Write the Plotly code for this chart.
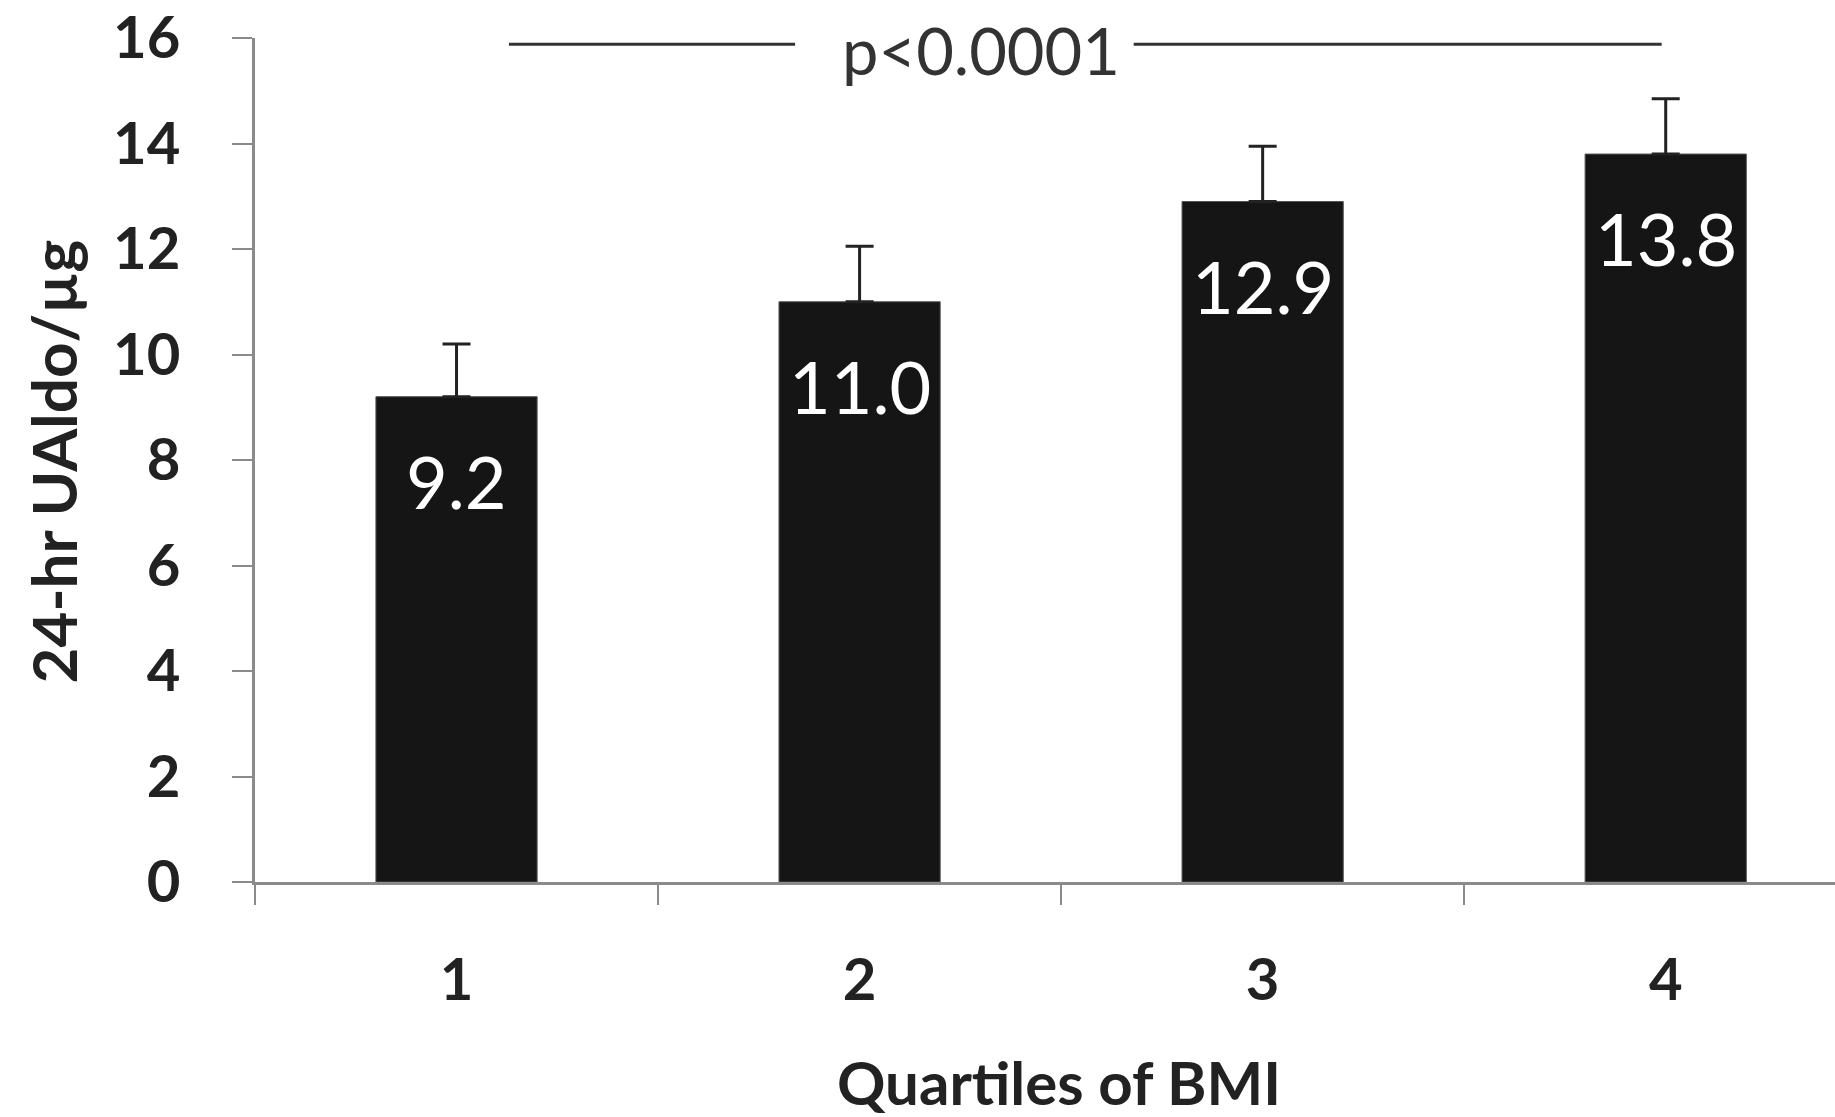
import plotly.graph_objects as go

categories = ["1", "2", "3", "4"]
values = [9.2, 11.0, 12.9, 13.8]
errors_up = [1.0, 1.05, 1.05, 1.05]
value_labels = ["9.2", "11.0", "12.9", "13.8"]
y_ticks = [0, 2, 4, 6, 8, 10, 12, 14, 16]
p_text = "p<0.0001"

FONT = "Lato"

fig = go.Figure()
fig.add_trace(go.Bar(
    x=categories, y=values, width=0.4,
    marker=dict(color="#151515", line=dict(color="#555555", width=1)),
    error_y=dict(type="data", array=errors_up, arrayminus=[0]*len(values),
                 symmetric=False, color="#222222", thickness=3, width=14),
    hoverinfo="skip",
))

annotations = []
for i, (v, t) in enumerate(zip(values, value_labels)):
    annotations.append(dict(x=i, y=v - 1.6, xref="x", yref="y", text=t, showarrow=False,
                            font=dict(family=FONT, size=72, color="white"),
                            xanchor="center", yanchor="middle"))

annotations.append(dict(x=1.30, y=15.78, xref="x", yref="y", text=p_text, showarrow=False,
                        font=dict(family=FONT, size=65, color="#333333"),
                        xanchor="center", yanchor="middle"))
annotations.append(dict(x=-0.128, y=0.498, xref="paper", yref="paper", text="24-hr UAldo/µg",
                        showarrow=False, textangle=-90,
                        font=dict(family=FONT, size=62, color="#222222", weight="bold"),
                        xanchor="center", yanchor="middle"))
annotations.append(dict(x=0.509, y=-0.237, xref="paper", yref="paper", text="Quartiles of BMI",
                        showarrow=False,
                        font=dict(family=FONT, size=60, color="#222222", weight="bold"),
                        xanchor="center", yanchor="middle"))

shapes = [
    dict(type="line", xref="x", yref="y", x0=0.13, x1=0.84, y0=15.88, y1=15.88,
         line=dict(color="#333333", width=3)),
    dict(type="line", xref="x", yref="y", x0=1.68, x1=2.99, y0=15.88, y1=15.88,
         line=dict(color="#333333", width=3)),
]

fig.update_layout(
    width=1835, height=1117,
    margin=dict(l=255, r=0, t=38, b=235),
    paper_bgcolor="white", plot_bgcolor="white",
    showlegend=False, bargap=0.6,
    annotations=annotations, shapes=shapes,
    font=dict(family=FONT, color="#222222"),
)
fig.update_xaxes(
    type="category", range=[-0.5, 3.42], tickson="boundaries",
    showline=True, linecolor="#8a8a8a", linewidth=3,
    ticks="outside", ticklen=20, tickwidth=2, tickcolor="#8a8a8a",
    tickfont=dict(family=FONT, size=58, color="#222222", weight="bold"),
    ticklabelstandoff=45, showgrid=False, zeroline=False,
)
fig.update_yaxes(
    range=[0, 16], tickvals=y_ticks,
    showline=True, linecolor="#8a8a8a", linewidth=3,
    ticks="outside", ticklen=20, tickwidth=2, tickcolor="#8a8a8a",
    tickfont=dict(family=FONT, size=58, color="#222222", weight="bold"),
    ticklabelstandoff=40, showgrid=False, zeroline=False,
)

fig.write_html("out.html")
